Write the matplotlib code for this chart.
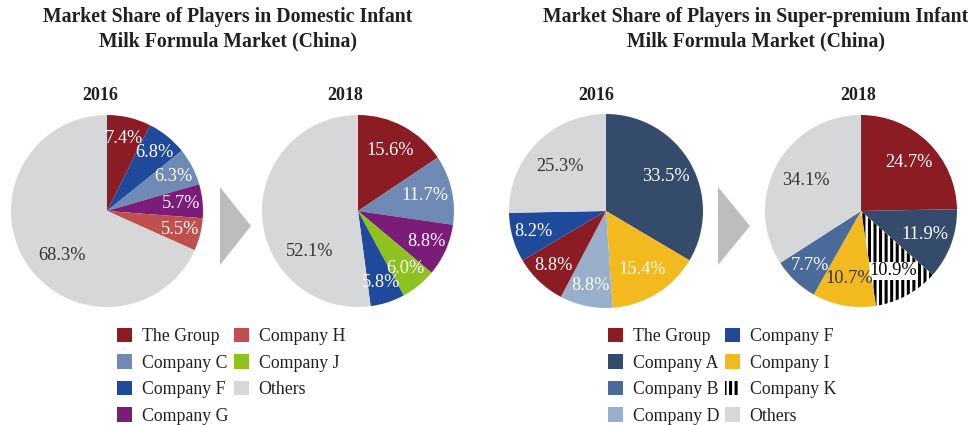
import numpy as np
import matplotlib
matplotlib.use('Agg')
import matplotlib.pyplot as plt
from matplotlib.patches import Polygon, Patch

plt.rcParams['font.family'] = ['Liberation Serif', 'DejaVu Serif']
plt.rcParams['hatch.linewidth'] = 2.2

W, H = 968, 425

# colours of the players
colors = {
    'The Group': '#8b1c24',
    'Company A': '#344b6c',
    'Company B': '#4a6a9a',
    'Company C': '#6f8ab5',
    'Company D': '#9aafcb',
    'Company F': '#1f4a9c',
    'Company G': '#7a1c78',
    'Company H': '#c0504d',
    'Company I': '#f3ba1f',
    'Company J': '#8dc21f',
    'Company K': 'white',
    'Others': '#d6d7d9',
}

# data (clockwise from 12 o'clock)
dom_players_2016 = ['The Group', 'Company F', 'Company C', 'Company G', 'Company H', 'Others']
dom_share_2016 = [7.4, 6.8, 6.3, 5.7, 5.5, 68.3]
dom_players_2018 = ['The Group', 'Company C', 'Company G', 'Company J', 'Company F', 'Others']
dom_share_2018 = [15.6, 11.7, 8.8, 6.0, 5.8, 52.1]

sp_players_2016 = ['Company A', 'Company I', 'Company D', 'The Group', 'Company F', 'Others']
sp_share_2016 = [33.5, 15.4, 8.8, 8.8, 8.2, 25.3]
sp_players_2018 = ['The Group', 'Company A', 'Company K', 'Company I', 'Company B', 'Others']
sp_share_2018 = [24.7, 11.9, 10.9, 10.7, 7.7, 34.1]

dom_legend = ['The Group', 'Company C', 'Company F', 'Company G',
              'Company H', 'Company J', 'Others']
sp_legend = ['The Group', 'Company A', 'Company B', 'Company D',
             'Company F', 'Company I', 'Company K', 'Others']

fig = plt.figure(figsize=(W / 100, H / 100), dpi=100)


def px(x, y):
    return x / W, 1 - y / H


def draw_pie(cx, cy, r, players, shares, year, year_x, dark=(), others_ang=None):
    x0, y1 = px(cx - r, cy + r)
    ax = fig.add_axes([x0, y1, 2 * r / W, 2 * r / H])
    wedges, _ = ax.pie(shares, colors=[colors[p] for p in players],
                       startangle=90, counterclock=False, radius=1,
                       wedgeprops=dict(linewidth=0))
    for w, p, s in zip(wedges, players, shares):
        if p == 'Company K':
            w.set_hatch('|||')
            w.set_edgecolor('black')
            w.set_linewidth(0)
        ang = np.deg2rad((w.theta1 + w.theta2) / 2)
        if p == 'Others':
            rr = 0.66
            if others_ang is not None:
                ang = np.deg2rad(others_ang)
        elif s < 10:
            rr = 0.78
        else:
            rr = 0.71
        tc = '#333333' if (p == 'Others' or p in dark) else 'white'
        kw = {}
        if p == 'Company K':
            kw['bbox'] = dict(facecolor='white', edgecolor='none', pad=0.5)
            tc = 'black'
        ax.text(rr * np.cos(ang), rr * np.sin(ang), f'{s:.1f}%',
                ha='center', va='center', fontsize=13.2, color=tc, **kw)
    ax.set_xlim(-1, 1)
    ax.set_ylim(-1, 1)
    ax.axis('off')
    fig.text(*px(year_x, 96), year, ha='center', va='center',
             fontsize=13, fontweight='bold', color='#231f20')


def draw_arrow(x0, x1, ytop, ybot):
    ym = (ytop + ybot) / 2
    pts = [px(x0, ytop), px(x1, ym), px(x0, ybot)]
    fig.patches.append(Polygon(pts, closed=True, transform=fig.transFigure,
                               facecolor='#bebdbb', edgecolor='none'))


draw_pie(107, 211, 96, dom_players_2016, dom_share_2016, '2016', 100, others_ang=-135)
draw_pie(358, 211, 96, dom_players_2018, dom_share_2018, '2018', 345, others_ang=-140)
draw_pie(606, 211, 97, sp_players_2016, sp_share_2016, '2016', 596)
draw_pie(861, 211, 96, sp_players_2018, sp_share_2018, '2018', 858,
         dark=('Company I',))

draw_arrow(220, 251, 187, 265)
draw_arrow(718, 750, 187, 265)

fig.text(*px(228, 7), 'Market Share of Players in Domestic Infant\nMilk Formula Market (China)',
         ha='center', va='top', fontsize=14.2, fontweight='bold',
         linespacing=1.3, color='#231f20')
fig.text(*px(756, 7), 'Market Share of Players in Super-premium Infant\nMilk Formula Market (China)',
         ha='center', va='top', fontsize=14.2, fontweight='bold',
         linespacing=1.3, color='#231f20')


def make_handles(names):
    hs = []
    for n in names:
        if n == 'Company K':
            hs.append(Patch(facecolor='white', edgecolor='black', hatch='|||',
                            linewidth=0, label=n))
        else:
            hs.append(Patch(facecolor=colors[n], edgecolor='none', label=n))
    return hs


leg_kw = dict(ncol=2, frameon=False, fontsize=12.8, handlelength=0.85,
              handleheight=0.85, handletextpad=0.55, labelspacing=0.52,
              columnspacing=0.3, borderpad=0, borderaxespad=0, loc='upper left')
leg1 = fig.legend(handles=make_handles(dom_legend),
                  bbox_to_anchor=px(117, 328), **leg_kw)
for t in leg1.get_texts():
    t.set_color('#231f20')
leg2 = fig.legend(handles=make_handles(sp_legend),
                  bbox_to_anchor=px(608, 328), **leg_kw)
for t in leg2.get_texts():
    t.set_color('#231f20')

fig.savefig('out.png', dpi=100)
